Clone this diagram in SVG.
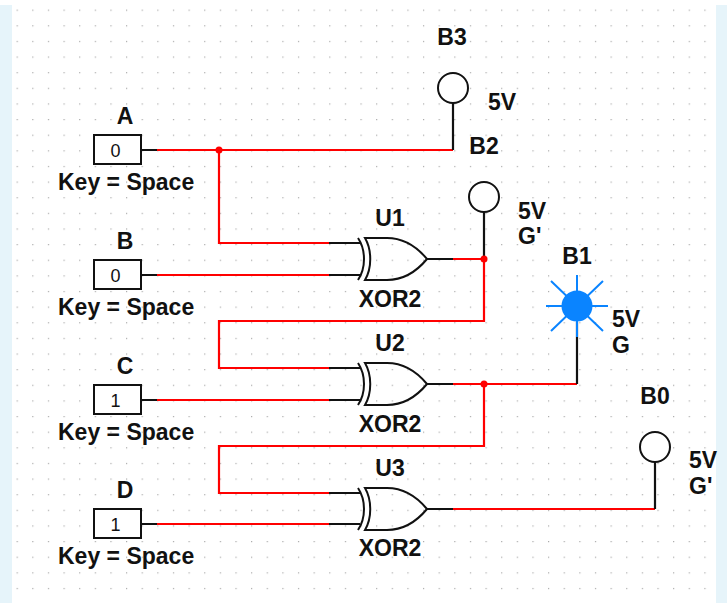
<svg xmlns="http://www.w3.org/2000/svg" xmlns:xlink="http://www.w3.org/1999/xlink" width="727" height="603" viewBox="0 0 727 603">
<style>
text{font-family:"Liberation Sans",Arial,sans-serif;font-weight:bold;font-size:23px;fill:#111}
.m{text-anchor:middle}
.r{fill:none;stroke:#f00;stroke-width:2.2}
.k{fill:none;stroke:#111;stroke-width:2.2}
.v{font-weight:normal;font-size:18px;text-anchor:middle}
.lamp{fill:#fff;stroke:#111;stroke-width:2}
.box{fill:#fff;stroke:#111;stroke-width:2}
.g{fill:none;stroke:#111;stroke-width:2}
.ray{stroke:#0a84ff;stroke-width:2}
</style>
<defs>
<pattern id="dots" x="16.6" y="9.6" width="15.63" height="15.63" patternUnits="userSpaceOnUse"><rect width="1.2" height="1.2" fill="#aaa"/></pattern>
<g id="xor"><path class="g" d="M365 238C372 250 372 268 365 280H387C403 280 417 271 427 259C417 247 403 238 387 238Z"/><path class="g" d="M358 238C366 250 366 268 358 280"/></g>
</defs>
<rect width="727" height="603" fill="#fff"/>
<rect x="0" y="5" width="12" height="598" fill="#e6f4fa"/>
<rect x="716" y="5" width="11" height="598" fill="#e6f4fa"/>
<rect x="12" y="5" width="704" height="598" fill="url(#dots)"/>
<g id="connectors">
<path class="r" d="M157 150H453M219 150V243H329M157 275H329M453 259H484M484 259V321H219V368H329M157 400H329M453 384H577M484 384V446H219V493H329M157 524H329M453 509H655"/>
<path class="k" d="M142 150H157M453 150V103M142 275H157M329 243H360M329 275H360M427 259H453M484 259V212M142 400H157M329 368H360M329 400H360M427 384H453M577 384V322M142 524H157M329 493H360M329 524H360M427 509H453M655 509V462"/>
<g fill="#f00"><circle cx="219" cy="150" r="3.5"/><circle cx="484" cy="259" r="3.5"/><circle cx="484" cy="384" r="3.5"/></g>
</g>
<g id="A"><text class="m" x="125" y="124">A</text><rect class="box" x="94" y="135" width="47" height="29"/><text class="v" x="115.5" y="157">0</text><text x="58" y="190">Key = Space</text></g>
<g id="B"><text class="m" x="125" y="249">B</text><rect class="box" x="94" y="260" width="47" height="29"/><text class="v" x="115.5" y="282">0</text><text x="58" y="315">Key = Space</text></g>
<g id="C"><text class="m" x="125" y="374">C</text><rect class="box" x="94" y="385" width="47" height="29"/><text class="v" x="115.5" y="407">1</text><text x="58" y="440">Key = Space</text></g>
<g id="D"><text class="m" x="125" y="498">D</text><rect class="box" x="94" y="509" width="47" height="29"/><text class="v" x="115.5" y="531">1</text><text x="58" y="564">Key = Space</text></g>
<g id="U1"><use xlink:href="#xor"/><text class="m" x="390" y="226">U1</text><text class="m" x="390" y="307">XOR2</text></g>
<g id="U2"><use xlink:href="#xor" y="125"/><text class="m" x="390" y="351">U2</text><text class="m" x="390" y="432">XOR2</text></g>
<g id="U3"><use xlink:href="#xor" y="250"/><text class="m" x="390" y="476">U3</text><text class="m" x="390" y="556">XOR2</text></g>
<g id="B3"><circle class="lamp" cx="453" cy="88" r="15"/><text class="m" x="452" y="45">B3</text><text x="488" y="110">5V</text></g>
<g id="B2"><circle class="lamp" cx="484" cy="197" r="15"/><text class="m" x="484" y="154">B2</text><text x="518" y="219">5V</text><text x="518" y="244">G'</text></g>
<g id="B1"><g class="ray"><path d="M577 275V337M546 306H608M551 281L603 331M603 281L551 331"/></g><circle cx="577" cy="306" r="15.5" fill="#0a84ff"/><text class="m" x="577" y="264">B1</text><text x="612" y="327">5V</text><text x="612" y="353">G</text></g>
<g id="B0"><circle class="lamp" cx="655" cy="447" r="15"/><text class="m" x="655" y="404">B0</text><text x="689" y="468">5V</text><text x="689" y="494">G'</text></g>
</svg>
